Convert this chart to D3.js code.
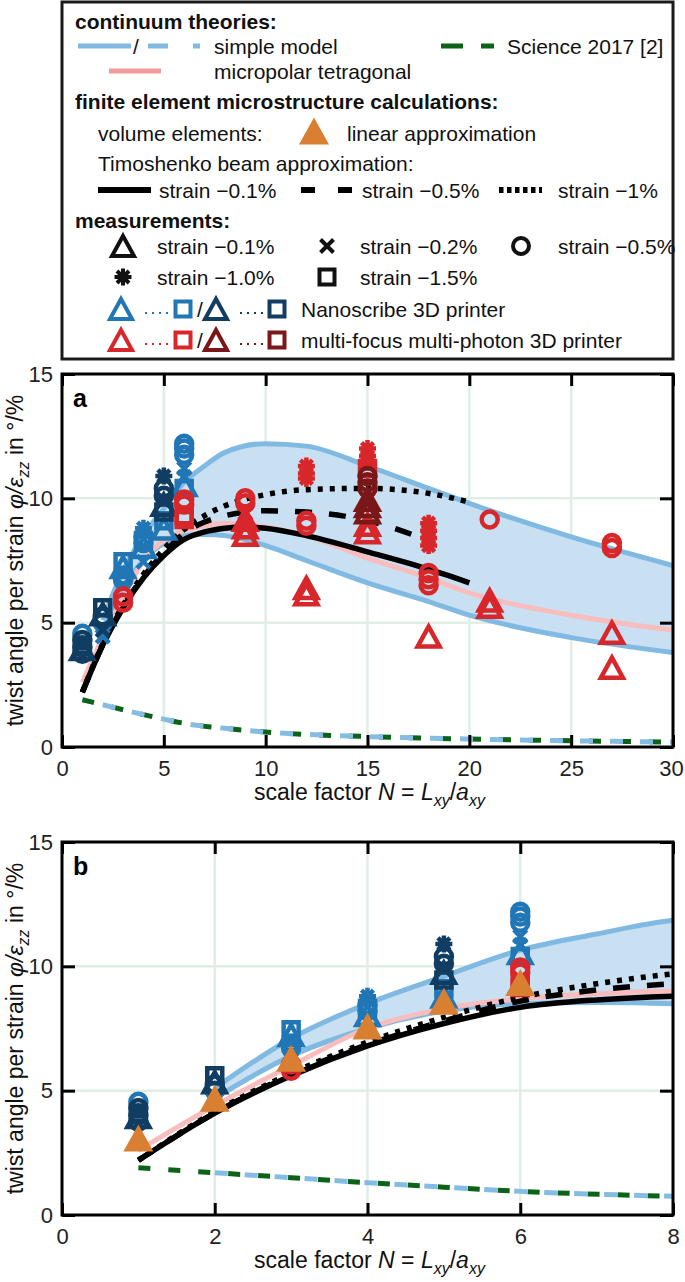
<!DOCTYPE html>
<html><head><meta charset="utf-8">
<script src="https://cdn.jsdelivr.net/npm/d3@7"></script>
<style>
body{margin:0;background:#fff;}
svg{display:block;font-family:"Liberation Sans",Arial,Helvetica,sans-serif;}
</style></head><body>
<svg id="c" width="685" height="1282"></svg>
<script>
// ---------------- DATA ----------------
// continuum theory: simple model (band edges)
const simpleN      = [2, 3, 4, 5, 6, 7, 8, 10, 12, 15, 18, 20, 25, 30];
const simpleUpper  = [5.1, 7.1, 8.5, 9.6, 10.65, 11.3, 11.85, 12.2, 12.1, 11.3, 10.4, 9.8, 8.45, 7.3];
const simpleLower  = [4.7, 6.4, 7.5, 8.2, 8.5, 8.55, 8.5, 8.1, 7.5, 6.6, 5.85, 5.3, 4.4, 3.8];
// micropolar tetragonal
const microN   = [1, 2, 3, 4, 5, 6, 7, 8, 10, 12, 15, 18, 20, 25, 30];
const microVal = [2.6, 4.4, 6.0, 7.5, 8.3, 8.7, 8.9, 9.0, 8.85, 8.5, 7.6, 6.8, 6.2, 5.3, 4.7];
// Timoshenko beam approximation
const beamN01   = [1, 2, 3, 4, 5, 6, 7, 8, 9, 10, 12, 15, 18, 20];
const beam01    = [2.2, 4.1, 5.6, 6.8, 7.7, 8.35, 8.65, 8.8, 8.85, 8.8, 8.5, 7.85, 7.15, 6.6];
const beamN05   = [1, 2, 3, 4, 5, 6, 7, 8, 10, 12, 15, 18];
const beam05    = [2.2, 4.1, 5.65, 6.85, 7.8, 8.6, 9.05, 9.3, 9.5, 9.45, 9.1, 8.3];
const beamN1    = [1, 2, 3, 4, 5, 6, 7, 8, 10, 12, 15, 18, 20];
const beam1     = [2.2, 4.15, 5.7, 6.95, 7.95, 8.75, 9.3, 9.7, 10.15, 10.35, 10.4, 10.2, 9.85];
// Science 2017 [2] and simple-model dashed
const scienceN   = [1, 2, 3, 4, 5, 6, 8, 10, 15, 20, 25, 30];
const scienceVal = [1.9, 1.7, 1.5, 1.3, 1.12, 0.95, 0.75, 0.6, 0.42, 0.32, 0.25, 0.2];
// volume elements, linear approximation
const feN   = [1, 2, 3, 4, 5, 6];
const feVal = [3.1, 4.7, 6.3, 7.6, 8.6, 9.35];
// measurements: [N, value, strain in %]
const nanoLight = [
  [1,4.55,"0.5"],
  [2,5.0,"0.5"],[2,4.45,"0.2"],
  [3,7.45,"1.5"],[3,7.2,"0.1"],[3,6.9,"0.5"],[3,6.7,"0.5"],[3,6.5,"0.2"],
  [4,8.8,"1.0"],[4,8.45,"0.5"],[4,8.3,"1.5"],[4,8.2,"0.5"],[4,8.0,"0.1"],[4,7.45,"0.2"],
  [5,9.1,"1.5"],[5,8.75,"0.1"],
  [6,12.2,"0.5"],[6,12.0,"0.5"],[6,11.75,"0.5"],[6,11.2,"0.2"],[6,10.85,"0.2"],[6,10.5,"0.1"],[6,10.4,"1.5"]
];
const nanoDark = [
  [1,4.3,"0.5"],[1,4.2,"0.2"],[1,4.1,"1.5"],[1,4.0,"0.5"],[1,3.9,"0.1"],[1,3.75,"0.5"],
  [2,5.6,"1.5"],[2,5.3,"0.1"],[2,5.25,"0.5"],[2,4.7,"0.2"],
  [5,10.9,"1.0"],[5,10.4,"0.5"],[5,10.1,"0.5"],[5,9.9,"0.2"],[5,9.7,"0.1"],[5,9.45,"1.5"]
];
const mfLight = [
  [3,6.05,"0.5"],[3,5.8,"0.5"],
  [6,9.95,"0.5"],[6,9.75,"0.5"],[6,9.3,"1.5"],[6,9.15,"1.5"],
  [9,10.0,"0.5"],[9,9.8,"0.5"],[9,9.4,"0.2"],[9,9.1,"0.1"],[9,8.8,"0.1"],[9,8.5,"0.1"],
  [12,11.3,"1.0"],[12,11.0,"1.0"],[12,10.8,"1.0"],[12,9.1,"0.5"],[12,8.9,"0.5"],[12,6.35,"0.1"],[12,6.1,"0.1"],
  [15,12.0,"1.0"],[15,11.7,"1.0"],[15,11.45,"1.0"],[15,11.2,"1.5"],[15,8.9,"0.1"],[15,8.6,"0.1"],
  [18,9.0,"1.0"],[18,8.7,"1.0"],[18,8.4,"1.0"],[18,8.1,"1.0"],[18,7.0,"0.5"],[18,6.75,"0.5"],[18,6.5,"0.5"],[18,4.4,"0.1"],
  [21,9.15,"0.5"],[21,5.85,"0.1"],[21,5.6,"0.1"],
  [27,8.2,"0.5"],[27,8.0,"0.5"],[27,4.55,"0.1"],[27,3.15,"0.1"]
];
const mfDark = [
  [15,10.9,"0.5"],[15,10.65,"0.5"],[15,10.4,"0.5"],[15,9.9,"0.1"],[15,9.65,"0.1"],[15,9.4,"0.1"]
];
// axes
const yTicks  = [0, 5, 10, 15];
const xTicksA = [0, 5, 10, 15, 20, 25, 30];
const xTicksB = [0, 2, 4, 6, 8];

// ---------------- STYLE ----------------
const C = {
  bandFill: "#c8e0f1", bandLine: "#80b9e2", pink: "#f9bdbd", pinkLeg: "#f39a9a",
  green: "#0c6317", blueDash: "#85bce3", grid: "#e1eee5",
  nLight: "#2176b5", nDark: "#113d62", mLight: "#d7272a", mDark: "#7a1719", orange: "#d97f31"
};
const svg = d3.select("#c");
const FONT = 22;

function markerPath(t) {
  switch (t) {
    case "0.1": return "M0,-11L11,9L-11,9Z";
    case "0.2": return "M-6.5,-6.5L6.5,6.5M-6.5,6.5L6.5,-6.5";
    case "0.5": return "M8,0A8,8 0 1 1 -8,0A8,8 0 1 1 8,0Z";
    case "1.0": {
      let p = "";
      for (let k = 0; k < 4; k++) {
        const a = k * Math.PI / 4, c = Math.cos(a) * 8.5, s = Math.sin(a) * 8.5;
        p += `M${-c},${-s}L${c},${s}`;
      }
      return p;
    }
    case "1.5": return "M-7.5,-7.5L7.5,-7.5L7.5,7.5L-7.5,7.5Z";
  }
}
const triBig = "M0,-13.5L15,13.5L-15,13.5Z";

// ---------------- LEGEND ----------------
const leg = svg.append("g");
leg.append("rect").attr("x", 62).attr("y", 2).attr("width", 611).attr("height", 357)
  .attr("fill", "none").attr("stroke", "#1a1a1a").attr("stroke-width", 3);
function ltext(x, y, t, bold) {
  return leg.append("text").attr("x", x).attr("y", y).attr("dominant-baseline", "central")
    .attr("font-size", 21).attr("font-weight", bold ? "bold" : "normal").attr("fill", "#111").text(t);
}
function lline(x1, x2, y, color, w, dash, off) {
  leg.append("line").attr("x1", x1).attr("x2", x2).attr("y1", y).attr("y2", y)
    .attr("stroke", color).attr("stroke-width", w)
    .attr("stroke-dasharray", dash || null).attr("stroke-dashoffset", off || 0);
}
function lmark(x, y, t, color) {
  leg.append("path").attr("transform", `translate(${x},${y})`).attr("d", markerPath(t))
    .attr("fill", "none").attr("stroke", color).attr("stroke-width", 4);
}
ltext(75, 21, "continuum theories:", true);
lline(78, 131, 46, C.bandLine, 5);
ltext(133, 46, "/");
lline(148, 200, 46, C.bandLine, 5, "20,25");
ltext(214, 46, "simple model");
lline(441, 494, 46, C.green, 5, "22,18");
ltext(507, 46, "Science 2017 [2]");
lline(109, 161, 71, C.pinkLeg, 5);
ltext(214, 71, "micropolar tetragonal");
ltext(75, 101, "finite element microstructure calculations:", true);
ltext(98, 133, "volume elements:");
leg.append("path").attr("transform", "translate(314,131)").attr("d", triBig).attr("fill", C.orange);
ltext(347, 133, "linear approximation");
ltext(98, 163, "Timoshenko beam approximation:");
lline(98, 151, 190, "#000", 6);
ltext(159, 190, "strain \u22120.1%");
lline(301, 353, 190, "#000", 6, "14,23");
ltext(362, 190, "strain \u22120.5%");
lline(499, 542, 190, "#000", 6, "4.5,3.5");
ltext(558, 190, "strain \u22121%");
ltext(75, 220, "measurements:", true);
lmark(123, 247, "0.1", "#111"); ltext(157, 246, "strain \u22120.1%");
lmark(327, 246, "0.2", "#111"); ltext(360, 246, "strain \u22120.2%");
lmark(521, 246, "0.5", "#111"); ltext(558, 246, "strain \u22120.5%");
lmark(123, 277, "1.0", "#111"); ltext(157, 277, "strain \u22121.0%");
lmark(327, 277, "1.5", "#111"); ltext(360, 277, "strain \u22121.5%");
function printerRow(y, c1, c2, label) {
  lmark(121, y + 1, "0.1", c1);
  lline(145, 168, y + 4, c1, 2, "2,5");
  lmark(183, y, "1.5", c1);
  ltext(197, y, "/");
  lmark(216, y + 1, "0.1", c2);
  lline(240, 263, y + 4, c2, 2, "2,5");
  lmark(277, y, "1.5", c2);
  ltext(301, y, label);
}
printerRow(309, C.nLight, C.nDark, "Nanoscribe 3D printer");
printerRow(340, C.mLight, C.mDark, "multi-focus multi-photon 3D printer");

// ---------------- PANELS ----------------
function zip(xs, ys) { return xs.map((v, i) => [v, ys[i]]); }

function panel(id, top, xMax, xTicks, label, showFE) {
  const left = 62, right = 673, bottom = top + 373;
  const x = d3.scaleLinear().domain([0, xMax]).range([left, right]);
  const y = d3.scaleLinear().domain([0, 15]).range([bottom, top]);
  const g = svg.append("g");
  g.append("clipPath").attr("id", "clip" + id).append("rect")
    .attr("x", left).attr("y", top).attr("width", right - left).attr("height", bottom - top);

  // grid
  g.selectAll(".gx").data(xTicks.filter(t => t > 0 && t < xMax)).join("line")
    .attr("x1", d => x(d)).attr("x2", d => x(d)).attr("y1", top).attr("y2", bottom)
    .attr("stroke", C.grid).attr("stroke-width", 2.5);
  g.selectAll(".gy").data(yTicks.filter(t => t > 0 && t < 15)).join("line")
    .attr("y1", d => y(d)).attr("y2", d => y(d)).attr("x1", left).attr("x2", right)
    .attr("stroke", C.grid).attr("stroke-width", 2.5);

  const cg = g.append("g").attr("clip-path", `url(#clip${id})`);
  const line = d3.line().x(d => x(d[0])).y(d => y(d[1])).curve(d3.curveMonotoneX);
  const up = zip(simpleN, simpleUpper), lo = zip(simpleN, simpleLower);
  const area = d3.area().x(d => x(d[0])).y0((d, i) => y(lo[i][1])).y1(d => y(d[1])).curve(d3.curveMonotoneX);
  cg.append("path").attr("d", area(up)).attr("fill", C.bandFill);
  cg.append("path").attr("d", line(up)).attr("fill", "none").attr("stroke", C.bandLine).attr("stroke-width", 5);
  cg.append("path").attr("d", line(lo)).attr("fill", "none").attr("stroke", C.bandLine).attr("stroke-width", 5);
  cg.append("path").attr("d", line(zip(microN, microVal))).attr("fill", "none").attr("stroke", C.pink).attr("stroke-width", 5);
  cg.append("path").attr("d", line(zip(beamN01, beam01))).attr("fill", "none").attr("stroke", "#000").attr("stroke-width", 5.5);
  cg.append("path").attr("d", line(zip(beamN05, beam05))).attr("fill", "none").attr("stroke", "#000").attr("stroke-width", 5.5).attr("stroke-dasharray", "17,17");
  cg.append("path").attr("d", line(zip(beamN1, beam1))).attr("fill", "none").attr("stroke", "#000").attr("stroke-width", 5.5).attr("stroke-dasharray", "5,7");
  // Science 2017 and dashed simple model
  const sci = zip(scienceN, scienceVal);
  cg.append("path").attr("d", line(sci)).attr("fill", "none").attr("stroke", C.green).attr("stroke-width", 5).attr("stroke-dasharray", "12,18");
  const sciBlue = sci.filter(d => d[0] >= 2);
  cg.append("path").attr("d", line(sciBlue)).attr("fill", "none").attr("stroke", C.blueDash).attr("stroke-width", 5).attr("stroke-dasharray", "13,17").attr("stroke-dashoffset", 0);

  // measurements
  const groups = [[nanoLight, C.nLight], [nanoDark, C.nDark], [mfLight, C.mLight], [mfDark, C.mDark]];
  groups.forEach(([arr, col]) => {
    g.append("g").selectAll("path").data(arr.filter(d => d[0] <= xMax)).join("path")
      .attr("transform", d => `translate(${x(d[0])},${y(d[1])})`)
      .attr("d", d => markerPath(d[2]))
      .attr("fill", "none").attr("stroke", col).attr("stroke-width", 4.5);
  });
  if (showFE) {
    g.append("g").selectAll("path").data(zip(feN, feVal)).join("path")
      .attr("transform", d => `translate(${x(d[0])},${y(d[1])})`)
      .attr("d", triBig).attr("fill", C.orange);
  }

  // frame
  g.append("rect").attr("x", left).attr("y", top).attr("width", right - left).attr("height", bottom - top)
    .attr("fill", "none").attr("stroke", "#000").attr("stroke-width", 3);

  // axes
  const styleAx = sel => {
    sel.select(".domain").remove();
    sel.selectAll(".tick line").attr("stroke", "#000").attr("stroke-width", 3);
    sel.selectAll(".tick text").attr("font-size", FONT).attr("fill", "#222")
      .attr("font-family", '"Liberation Sans",Arial,sans-serif');
  };
  const bx = g.append("g").attr("transform", `translate(0,${bottom})`)
    .call(d3.axisBottom(x).tickValues(xTicks).tickSize(-12).tickPadding(13)).call(styleAx);
  // keep the last label inside the page
  bx.selectAll(".tick text").filter(d => d === xMax && String(d).length > 1).attr("dx", -2);
  g.append("g").attr("transform", `translate(0,${top})`)
    .call(d3.axisTop(x).tickValues(xTicks).tickSize(-12).tickFormat("")).call(styleAx);
  g.append("g").attr("transform", `translate(${left},0)`)
    .call(d3.axisLeft(y).tickValues(yTicks).tickSize(-13).tickPadding(9)).call(styleAx);
  g.append("g").attr("transform", `translate(${right},0)`)
    .call(d3.axisRight(y).tickValues(yTicks).tickSize(-13).tickFormat("")).call(styleAx);

  // panel label
  g.append("text").attr("x", left + 11).attr("y", top + 33).attr("font-size", 25).attr("font-weight", "bold").text(label);

  // x title
  const xt = g.append("text").attr("x", (left + right) / 2 + 2).attr("y", bottom + 53)
    .attr("text-anchor", "middle").attr("font-size", 23).attr("fill", "#111");
  xt.append("tspan").text("scale factor ");
  xt.append("tspan").attr("font-style", "italic").text("N");
  xt.append("tspan").text(" = ");
  xt.append("tspan").attr("font-style", "italic").text("L");
  xt.append("tspan").attr("font-style", "italic").attr("font-size", 16).attr("dy", 6).text("xy");
  xt.append("tspan").attr("dy", -6).text("/");
  xt.append("tspan").attr("font-style", "italic").text("a");
  xt.append("tspan").attr("font-style", "italic").attr("font-size", 16).attr("dy", 6).text("xy");

  // y title
  const yt = g.append("text").attr("transform", `translate(23,${(top + bottom) / 2}) rotate(-90)`)
    .attr("text-anchor", "middle").attr("font-size", 23).attr("fill", "#111");
  yt.append("tspan").text("twist angle per strain ");
  yt.append("tspan").attr("font-style", "italic").text("\u03C6/\u03B5");
  yt.append("tspan").attr("font-style", "italic").attr("font-size", 16).attr("dy", 6).text("zz");
  yt.append("tspan").attr("dy", -6).text(" in \u00B0/%");
}

panel("A", 374, 30, xTicksA, "a", false);
panel("B", 842, 8, xTicksB, "b", true);
</script>
</body></html>
